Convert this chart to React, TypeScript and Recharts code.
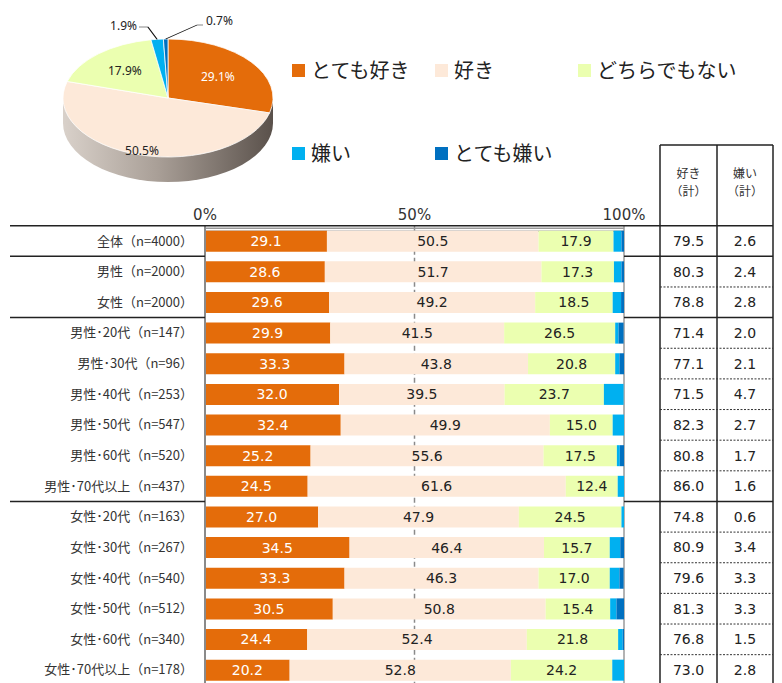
import React from 'react';
import { BarChart, Bar, XAxis, YAxis, CartesianGrid, LabelList, PieChart, Pie, Cell } from 'recharts';

const seriesNames = ['とても好き', '好き', 'どちらでもない', '嫌い', 'とても嫌い'];
const seriesKeys = ['s1', 's2', 's3', 's4', 's5'];
const colors = ['#E46C0A', '#FDE9D9', '#EBFFB0', '#00B0F0', '#0070C0'];

const pieValues = [29.1, 50.5, 17.9, 1.9, 0.7];

const categories = [
  '全体（n=4000）',
  '男性（n=2000）',
  '女性（n=2000）',
  '男性･20代（n=147）',
  '男性･30代（n=96）',
  '男性･40代（n=253）',
  '男性･50代（n=547）',
  '男性･60代（n=520）',
  '男性･70代以上（n=437）',
  '女性･20代（n=163）',
  '女性･30代（n=267）',
  '女性･40代（n=540）',
  '女性･50代（n=512）',
  '女性･60代（n=340）',
  '女性･70代以上（n=178）',
];
const veryLike = [29.1, 28.6, 29.6, 29.9, 33.3, 32.0, 32.4, 25.2, 24.5, 27.0, 34.5, 33.3, 30.5, 24.4, 20.2];
const like = [50.5, 51.7, 49.2, 41.5, 43.8, 39.5, 49.9, 55.6, 61.6, 47.9, 46.4, 46.3, 50.8, 52.4, 52.8];
const neutral = [17.9, 17.3, 18.5, 26.5, 20.8, 23.7, 15.0, 17.5, 12.4, 24.5, 15.7, 17.0, 15.4, 21.8, 24.2];
const dislike = [1.9, 1.8, 2.0, 0.8, 1.0, 4.7, 2.7, 0.7, 1.6, 0.6, 2.5, 2.3, 1.5, 1.1, 2.8];
const veryDislike = [0.7, 0.6, 0.8, 1.2, 1.1, 0.0, 0.0, 1.0, 0.0, 0.0, 0.9, 1.0, 1.8, 0.4, 0.0];
const likeTotal = [79.5, 80.3, 78.8, 71.4, 77.1, 71.5, 82.3, 80.8, 86.0, 74.8, 80.9, 79.6, 81.3, 76.8, 73.0];
const dislikeTotal = [2.6, 2.4, 2.8, 2.0, 2.1, 4.7, 2.7, 1.7, 1.6, 0.6, 3.4, 3.3, 3.3, 1.5, 2.8];
const groupStarts = [0, 1, 3, 9];
const xTicks = [0, 50, 100];
const tableHeaders = [['好き', '（計）'], ['嫌い', '（計）']];

const barData = categories.map((name, i) => ({
  name,
  s1: veryLike[i],
  s2: like[i],
  s3: neutral[i],
  s4: dislike[i],
  s5: veryDislike[i],
}));
const pieData = pieValues.map((v, i) => ({ name: seriesNames[i], value: v }));

// layout constants
const CHART_H = 700;
const PLOT_TOP = 225.7;
const PLOT_BOTTOM = 685.3;
const PLOT_LEFT = 205;
const PLOT_RIGHT = 624;
const PITCH = (PLOT_BOTTOM - PLOT_TOP) / categories.length;
const TABLE_X = [660, 717, 773];
const TABLE_CENTERS = [688.5, 745];
const LINE_LEFT = 10;

const NUM_FONT = '"DejaVu Sans", Verdana, sans-serif';
const JP_FONT = '"Noto Sans CJK JP", "Noto Sans", sans-serif';

// pie geometry
const PCX = 168;
const PCY = 98;
const PR = 105;
const SY = 0.562;
const DEPTH = 25;
const PIE_BOX = 340;

const RowTick = (props: any) => {
  const { x, y, payload } = props;
  const i = props.index ?? payload.index;
  const top = y - PITCH / 2;
  const isGroup = groupStarts.includes(i);
  return (
    <g>
      <text x={x} y={y} dy={4.5} textAnchor="end" fontSize={13} fill="#333" fontFamily={JP_FONT}>
        {payload.value}
      </text>
      <text x={TABLE_CENTERS[0]} y={y} dy={5} textAnchor="middle" fontSize={14} fill="#222" fontFamily={NUM_FONT}>
        {likeTotal[i].toFixed(1)}
      </text>
      <text x={TABLE_CENTERS[1]} y={y} dy={5} textAnchor="middle" fontSize={14} fill="#222" fontFamily={NUM_FONT}>
        {dislikeTotal[i].toFixed(1)}
      </text>
      {isGroup ? (
        i === 0 ? (
          <line x1={LINE_LEFT} x2={TABLE_X[2]} y1={top} y2={top} stroke="#222" strokeWidth={1.5} />
        ) : (
          <g>
            <line x1={LINE_LEFT} x2={PLOT_LEFT} y1={top} y2={top} stroke="#222" strokeWidth={1.5} />
            <line x1={PLOT_RIGHT} x2={TABLE_X[2]} y1={top} y2={top} stroke="#222" strokeWidth={1.5} />
          </g>
        )
      ) : (
        <line x1={TABLE_X[0]} x2={TABLE_X[2]} y1={top} y2={top} stroke="#333" strokeWidth={1} strokeDasharray="2 1.5" />
      )}
    </g>
  );
};

const insideFactor = [0.6, 0.93, 0.62];
const outsidePts: Record<number, { text: [number, number]; anchor: string; pts: [number, number][] }> = {
  3: { text: [137, 25], anchor: 'end', pts: [[148, 27], [139, 27]] },
  4: { text: [206, 20], anchor: 'start', pts: [[197, 25], [203, 25]] },
};

const PieLabel = (props: any) => {
  const { cx, cy, midAngle, outerRadius, index, value } = props;
  const RAD = Math.PI / 180;
  const inv = `scale(1, ${1 / SY})`;
  const toPie = (xs: number, ys: number): [number, number] => [cx + (xs - PCX), cy + (ys - PCY) / SY];
  if (index < 3) {
    const r = outerRadius * insideFactor[index];
    const px = cx + r * Math.cos(-midAngle * RAD);
    const py = cy + r * Math.sin(-midAngle * RAD);
    return (
      <text
        transform={`translate(${px},${py}) ${inv}`}
        textAnchor="middle"
        dominantBaseline="central"
        fontSize={12}
        fontFamily='"Noto Sans", sans-serif'
        fill={index === 0 ? '#fff' : '#222'}
      >
        {`${value.toFixed(1)}%`}
      </text>
    );
  }
  const conf = outsidePts[index];
  const ex = cx + outerRadius * Math.cos(-midAngle * RAD);
  const ey = cy + outerRadius * Math.sin(-midAngle * RAD);
  const pts = [[ex, ey], ...conf.pts.map(([a, b]) => toPie(a, b))];
  const [tx, ty] = toPie(conf.text[0], conf.text[1]);
  return (
    <g>
      <polyline points={pts.map((p) => p.join(',')).join(' ')} fill="none" stroke="#111" strokeWidth={1.3} />
      <text
        transform={`translate(${tx},${ty}) ${inv}`}
        textAnchor={conf.anchor as any}
        dominantBaseline="central"
        fontSize={12}
        fontFamily='"Noto Sans", sans-serif'
        fill="#222"
      >
        {`${value.toFixed(1)}%`}
      </text>
    </g>
  );
};

const legendPos = [
  [292, 56],
  [435, 56],
  [578, 56],
  [292, 139],
  [435, 139],
];

export default function App() {
  const ry = PR * SY;
  const sidePath = `M${PCX - PR},${PCY} L${PCX - PR},${PCY + DEPTH} A${PR},${ry} 0 0 0 ${PCX + PR},${PCY + DEPTH} L${PCX + PR},${PCY} Z`;
  return (
    <div
      style={{
        position: 'absolute',
        left: 0,
        top: 0,
        width: 782,
        height: 683,
        overflow: 'hidden',
        background: '#fff',
        fontFamily: JP_FONT,
      }}
    >
      {/* pie side (3D depth) */}
      <svg style={{ position: 'absolute', left: 0, top: 0 }} width={320} height={200}>
        <defs>
          <linearGradient id="sideGrad" x1="0" x2="1" y1="0" y2="0">
            <stop offset="0%" stopColor="#d9d1ca" />
            <stop offset="45%" stopColor="#a99f97" />
            <stop offset="100%" stopColor="#5a514b" />
          </linearGradient>
        </defs>
        <path d={sidePath} fill="url(#sideGrad)" />
      </svg>

      {/* pie top face */}
      <div
        style={{
          position: 'absolute',
          left: PCX - PIE_BOX / 2,
          top: PCY - PIE_BOX / 2,
          width: PIE_BOX,
          height: PIE_BOX,
          transform: `scaleY(${SY})`,
          transformOrigin: '50% 50%',
        }}
      >
        <PieChart width={PIE_BOX} height={PIE_BOX} margin={{ top: 0, right: 0, bottom: 0, left: 0 }}>
          <Pie
            data={pieData}
            dataKey="value"
            nameKey="name"
            cx="50%"
            cy="50%"
            outerRadius={PR}
            startAngle={90}
            endAngle={-270}
            stroke="#ffffff"
            strokeWidth={1}
            isAnimationActive={false}
            labelLine={false}
            label={PieLabel}
          >
            {pieData.map((d, i) => (
              <Cell key={d.name} fill={colors[i]} />
            ))}
          </Pie>
        </PieChart>
      </div>

      {/* legend */}
      {seriesNames.map((n, i) => (
        <div
          key={n}
          style={{
            position: 'absolute',
            left: legendPos[i][0],
            top: legendPos[i][1],
            height: 28,
            display: 'flex',
            alignItems: 'center',
            whiteSpace: 'nowrap',
          }}
        >
          <div style={{ width: 13, height: 13, background: colors[i], marginRight: 6 }} />
          <span style={{ fontSize: 20, color: '#222', fontFamily: JP_FONT, lineHeight: '28px' }}>{n}</span>
        </div>
      ))}

      {/* table frame & header */}
      <svg style={{ position: 'absolute', left: 0, top: 0 }} width={782} height={683}>
        <line x1={TABLE_X[0]} x2={TABLE_X[2]} y1={145} y2={145} stroke="#222" strokeWidth={1.5} />
        {TABLE_X.map((x) => (
          <line key={x} x1={x} x2={x} y1={145} y2={683} stroke="#222" strokeWidth={1.5} />
        ))}
        {tableHeaders.map((h, k) => (
          <g key={k}>
            <text x={TABLE_CENTERS[k]} y={178} textAnchor="middle" fontSize={12} fill="#333" fontFamily={JP_FONT}>
              {h[0]}
            </text>
            <text x={TABLE_CENTERS[k]} y={196} textAnchor="middle" fontSize={12} fill="#333" fontFamily={JP_FONT}>
              {h[1]}
            </text>
          </g>
        ))}
      </svg>

      {/* bar chart */}
      <div style={{ position: 'absolute', left: 0, top: 0 }}>
        <BarChart
          width={782}
          height={CHART_H}
          data={barData}
          layout="vertical"
          margin={{ top: 195, right: 782 - PLOT_RIGHT, bottom: CHART_H - PLOT_BOTTOM, left: LINE_LEFT }}
          barSize={21}
          barCategoryGap={0}
        >
          <CartesianGrid horizontal={false} vertical verticalValues={[50]} stroke="#8a8a8a" strokeWidth={1.5} strokeDasharray="5 3" />
          <CartesianGrid
            vertical
            verticalValues={[100]}
            horizontal
            horizontalPoints={[PLOT_TOP + 2.5, PLOT_TOP + 5.5]}
            stroke="#9a9a9a"
            strokeWidth={1.5}
          />
          <XAxis
            type="number"
            orientation="top"
            domain={[0, 100]}
            ticks={xTicks}
            allowDataOverflow
            height={PLOT_TOP - 195}
            tickLine={false}
            axisLine={false}
            tickSize={0}
            tickMargin={6}
            tickFormatter={(v: number) => `${v}%`}
            tick={{ fontSize: 15, fill: '#333', fontFamily: NUM_FONT }}
          />
          <YAxis
            type="category"
            dataKey="name"
            width={PLOT_LEFT - LINE_LEFT}
            interval={0}
            tickLine={false}
            tickSize={0}
            tickMargin={12}
            axisLine={{ stroke: '#8a8a8a', strokeWidth: 2 }}
            tick={RowTick}
          />
          {seriesKeys.map((k, i) => (
            <Bar key={k} dataKey={k} name={seriesNames[i]} stackId="a" fill={colors[i]} isAnimationActive={false}>
              {i < 3 && (
                <LabelList
                  dataKey={k}
                  position="center"
                  formatter={(v: any) => Number(v).toFixed(1)}
                  fill={i === 0 ? '#ffffff' : '#222222'}
                  fontSize={14}
                  fontFamily={NUM_FONT}
                />
              )}
            </Bar>
          ))}
        </BarChart>
      </div>
    </div>
  );
}
